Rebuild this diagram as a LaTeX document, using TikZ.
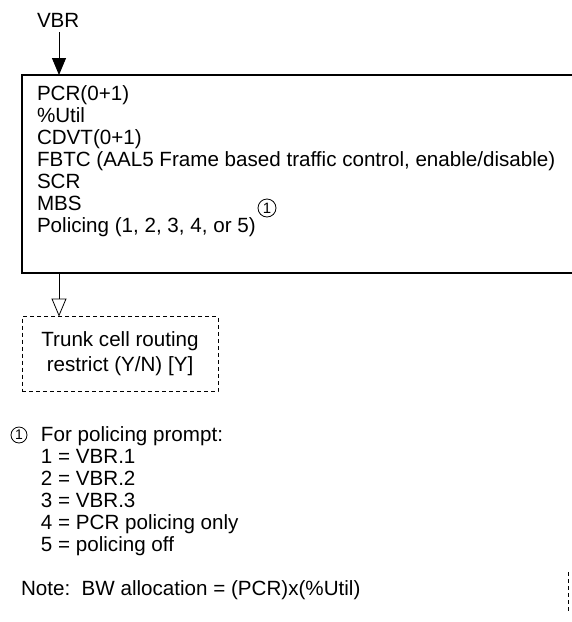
\documentclass[tikz,border=0pt]{standalone}
\usepackage{fontspec}
\setmainfont{Liberation Sans}
\usetikzlibrary{arrows.meta}
\begin{document}
\begin{tikzpicture}[x=1pt,y=-1pt,
  every node/.style={font=\fontsize{20.6}{22}\selectfont, inner sep=0pt, outer sep=0pt},
  txt/.style={anchor=base west},
  panel/.style={draw, line width=1.1pt, anchor=north west, minimum width=600pt, minimum height=198pt},
  optbox/.style={draw, dash pattern=on 4pt off 3pt, line width=0.9pt,
    minimum width=196pt, minimum height=75pt, align=center,
    font=\fontsize{20.6}{25}\selectfont},
  flow/.style={line width=1pt, -{Triangle[length=17pt,width=14pt]}},
  optflow/.style={line width=0.8pt, -{Triangle[open,length=18pt,width=15pt]}},
  cnum/.style={circle, draw, line width=0.8pt, minimum size=18pt, font=\fontsize{15}{15}\selectfont},
  cnumsmall/.style={cnum, minimum size=16pt, font=\fontsize{14}{14}\selectfont},
  snip/.style={line width=1pt, dash pattern=on 4pt off 3pt},
]
\useasboundingbox (0,0) rectangle (572,622);
\clip (0,0) rectangle (572,622);

% input label
\node[txt] (vbr) at (37,27) {VBR};

% parameter panel (runs past the right edge)
\node[panel] (panel) at (22,75) {};
\foreach \t [count=\i from 0] in {PCR(0+1), \%Util, CDVT(0+1),
    {FBTC (AAL5 Frame based traffic control, enable/disable)}, SCR, MBS,
    {Policing (1, 2, 3, 4, or 5)}}
  \node[txt] (p\i) at (37,100+22*\i) {\t};
\node[cnum] (fn1) at (267,208) {1};

% optional step
\node[optbox] (trunk) at (120,354) {Trunk cell routing\\restrict (Y/N) [Y]};

% connectors
\draw[flow] ([yshift=-5pt]vbr.south -| 59,0) -- (panel.north -| 59,0);
\draw[optflow] (panel.south -| 59,0) -- (trunk.north -| 59,0);

% footnote
\node[cnumsmall] (fn2) at (19,435) {1};
\node[txt] (fp) at (41,441) {For policing prompt:};
\foreach \t [count=\i from 1] in {1 = VBR.1, 2 = VBR.2, 3 = VBR.3,
    4 = PCR policing only, 5 = policing off}
  \node[txt] (f\i) at (41,441+22*\i) {\t};

\node[txt] (note) at (21,595) {Note:\ \ BW allocation = (PCR)x(\%Util)};

% dashed edge fragment
\coordinate (sa) at (568,572);
\coordinate (sb) at (568,612);
\draw[snip] (sa) -- (sb);
\end{tikzpicture}
\end{document}
